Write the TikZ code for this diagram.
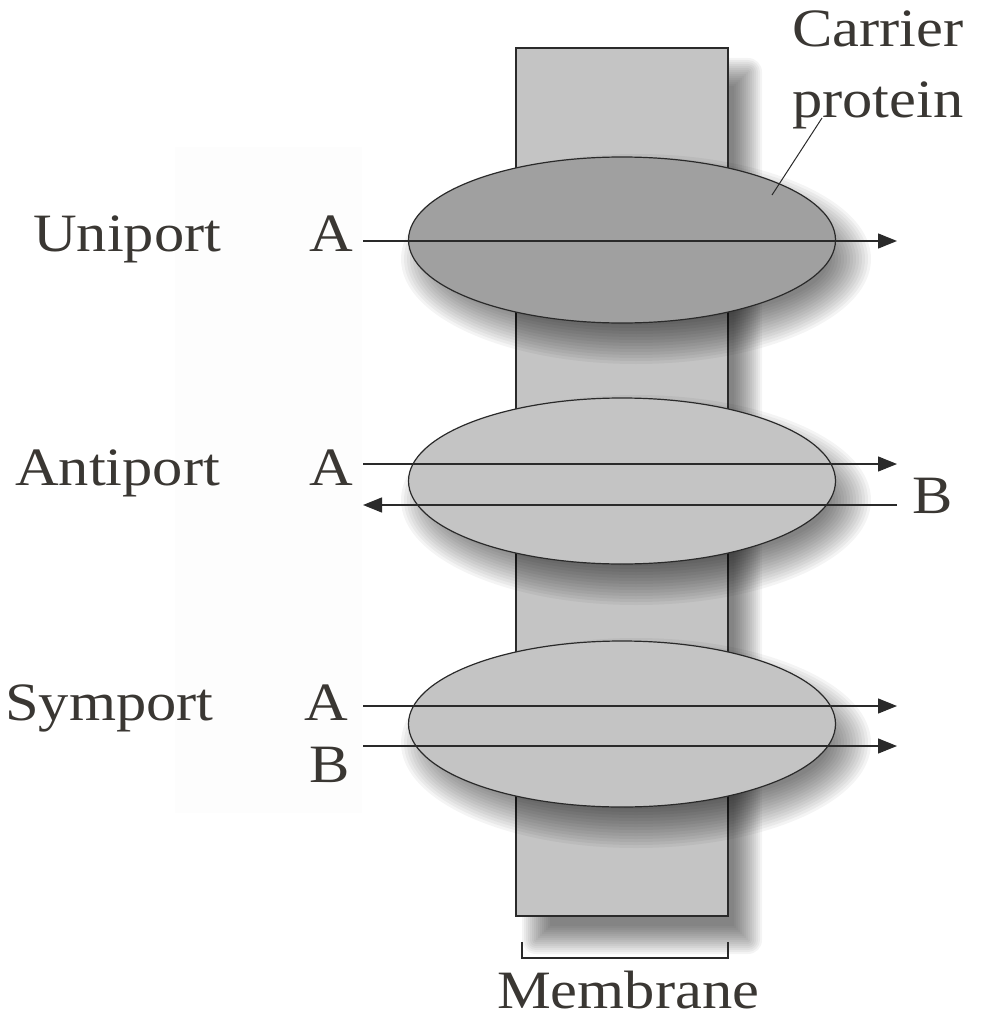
\documentclass[tikz,border=0pt]{standalone}
\usepackage{fontspec}
\setmainfont{Liberation Serif}
\usetikzlibrary{shapes.geometric,arrows.meta}
\definecolor{txt}{HTML}{3A3733}
\definecolor{memfill}{HTML}{C4C4C4}
\definecolor{darkfill}{HTML}{A0A0A0}
\definecolor{edge}{HTML}{2A2A2A}
\definecolor{faint}{HTML}{FDFDFD}
\newcommand\sx[1]{\scalebox{1.12}[1]{#1}}
% soft shadow of an ellipse: centre x, centre y, x radius, y radius
\newcommand\ellshadow[4]{%
  \foreach \e in {22,19,...,-20}{%
    \fill[black,opacity=0.045] (#1+14,#2+19) ellipse [x radius={#3+\e}, y radius={#4+\e}];}}
\begin{document}
\begin{tikzpicture}[x=1pt,y=-1pt,
  lbl/.style={text=txt,font=\fontsize{54}{64}\selectfont,inner sep=0pt,anchor=base west},
  memb/.style={rectangle,draw=edge,line width=1.2pt,fill=memfill,inner sep=0pt,
    minimum width=212pt,minimum height=868pt},
  prot/.style={ellipse,draw=edge,line width=1.2pt,inner sep=0pt,
    minimum width=427pt,minimum height=166pt},
  flow/.style={draw=edge,line width=1.3pt,-{Triangle[length=19pt,width=15pt]}},
  thin/.style={draw=edge,line width=1pt}
]
\useasboundingbox (0,0) rectangle (981,1019);
\fill[faint] (175,147) rectangle (362,813);

% membrane shadow and membrane
\foreach \e in {14,12,...,-14}{%
  \fill[black,opacity=0.045,rounded corners={max(\e,0.1)*1pt}]
    (536-\e,72-\e) rectangle (748+\e,940+\e);}
\node[memb] (mem) at (622,482) {};

% carrier proteins with shadows
\ellshadow{622}{240}{213}{83}
\node[prot,fill=darkfill] (uni) at (622,240) {};
\ellshadow{622}{481}{213}{83}
\node[prot,fill=memfill] (anti) at (622,481) {};
\ellshadow{622}{724}{213}{83}
\node[prot,fill=memfill] (sym) at (622,724) {};

% labels
\node[lbl] (tuni) at (33,251) {\sx{Uniport}};
\node[lbl] (ua) at (309,251) {\sx{A}};
\node[lbl] (tanti) at (15,485) {\sx{Antiport}};
\node[lbl] (aa) at (309,485) {\sx{A}};
\node[lbl] (ab) at (912,513) {\sx{B}};
\node[lbl] (tsym) at (5,720) {\sx{Symport}};
\node[lbl] (sa) at (304,720) {\sx{A}};
\node[lbl] (sb) at (309,782) {\sx{B}};
\node[lbl] (car) at (792,47) {\sx{Carrier}};
\node[lbl] (pro) at (792,118) {\sx{protein}};
\node[lbl] (memlbl) at (497,1008) {\sx{Membrane}};

% flows
\coordinate (u1) at (363,241); \coordinate (u2) at (897,241);
\coordinate (a1) at (363,464); \coordinate (a2) at (897,464);
\coordinate (b1) at (897,505); \coordinate (b2) at (363,505);
\coordinate (s1) at (363,706); \coordinate (s2) at (897,706);
\coordinate (s3) at (363,746); \coordinate (s4) at (897,746);
\draw[flow] (u1) -- (u2);
\draw[flow] (a1) -- (a2);
\draw[flow] (b1) -- (b2);
\draw[flow] (s1) -- (s2);
\draw[flow] (s3) -- (s4);

% leader line
\coordinate (l1) at (772,195); \coordinate (l2) at (822,118);
\draw[thin] (l1) -- (l2);

% bracket
\coordinate (k1) at (522,942); \coordinate (k2) at (728,958); \coordinate (k3) at (728,942);
\draw[draw=edge,line width=1.5pt] (k1) |- (k2) -- (k3);
\end{tikzpicture}
\end{document}
